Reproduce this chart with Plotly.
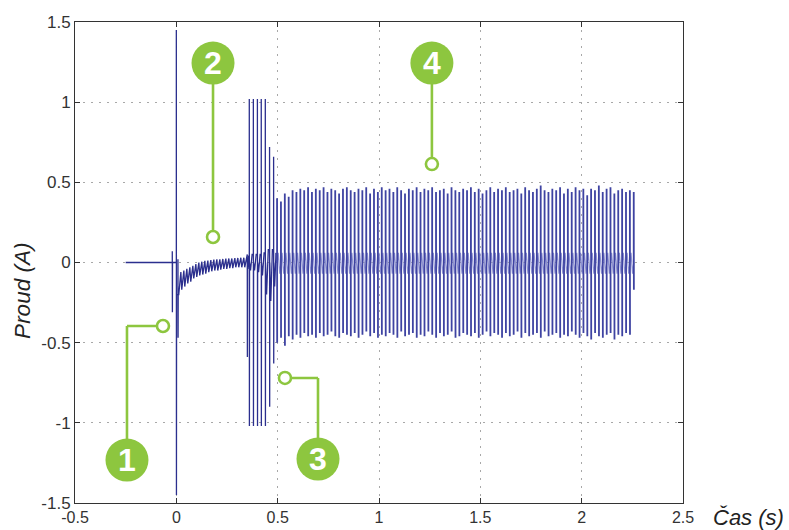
import plotly.graph_objects as go

# ---------------- measured current (Proud, A) versus time (Čas, s) ----------------

# idle level before switch-on
idle_t = [-0.25, -0.021]
idle_i = [0.0, 0.0]

# switch-on transients: time, upper and lower excursion
switch_t = [-0.020, 0.000, 0.008]
switch_hi = [0.07, 1.45, 0.02]
switch_lo = [-0.31, -1.45, -0.47]

# start-up ripple settling toward zero, one entry per ripple cycle
ramp_t0 = 0.012
ramp_period = 0.0148
ramp_hi = [-0.06, -0.05, -0.04, -0.03, -0.02, -0.01, 0.0, 0.005, 0.01, 0.012, 0.015, 0.018,
           0.02, 0.02, 0.022, 0.024, 0.025, 0.025, 0.027, 0.028, 0.03, 0.03, 0.03]
ramp_lo = [-0.20, -0.17, -0.15, -0.13, -0.12, -0.10, -0.09, -0.08, -0.075, -0.07, -0.06, -0.055,
           -0.05, -0.05, -0.045, -0.04, -0.04, -0.035, -0.035, -0.03, -0.03, -0.03, -0.03]

# acceleration bursts (clipped at about ±1 A)
burst_t = [0.350, 0.360, 0.380, 0.400, 0.419, 0.439, 0.460, 0.480]
burst_hi = [0.05, 1.02, 1.02, 1.02, 1.02, 1.02, 0.72, 0.66]
burst_lo = [-0.59, -1.02, -1.02, -1.02, -1.02, -1.02, -0.90, -0.63]
burst_gap_hi = [0.04, 0.05, 0.05, 0.05, 0.06, 0.08, 0.08, 0.06]
burst_gap_lo = [-0.04, -0.05, -0.05, -0.06, -0.08, -0.20, -0.24, -0.15]

# steady-state pulses
pulse_t0 = 0.497
pulse_period = 0.01913
pulse_hi = [0.40, 0.38, 0.43, 0.41, 0.45, 0.44, 0.46, 0.45, 0.47, 0.44,
            0.46, 0.45, 0.47, 0.44, 0.46, 0.45, 0.43, 0.46, 0.47, 0.45,
            0.44, 0.46, 0.45, 0.47, 0.43, 0.46, 0.44, 0.47, 0.45, 0.46,
            0.44, 0.47, 0.45, 0.43, 0.46, 0.45, 0.47, 0.44, 0.46, 0.45,
            0.47, 0.44, 0.45, 0.46, 0.43, 0.47, 0.45, 0.44, 0.46, 0.45,
            0.47, 0.44, 0.46, 0.43, 0.45, 0.47, 0.44, 0.46, 0.45, 0.47,
            0.44, 0.45, 0.46, 0.43, 0.47, 0.45, 0.44, 0.46, 0.48, 0.45,
            0.44, 0.46, 0.45, 0.47, 0.43, 0.46, 0.44, 0.47, 0.45, 0.46,
            0.42, 0.46, 0.45, 0.48, 0.44, 0.46, 0.47, 0.43, 0.45, 0.46,
            0.44, 0.45, 0.44]
pulse_lo = [-0.50, -0.47, -0.52, -0.46, -0.48, -0.45, -0.47, -0.44, -0.46, -0.45,
            -0.47, -0.44, -0.46, -0.45, -0.43, -0.46, -0.47, -0.44, -0.45, -0.46,
            -0.44, -0.47, -0.45, -0.43, -0.46, -0.44, -0.47, -0.45, -0.46, -0.44,
            -0.45, -0.47, -0.43, -0.46, -0.45, -0.44, -0.47, -0.45, -0.46, -0.43,
            -0.45, -0.47, -0.44, -0.46, -0.45, -0.43, -0.47, -0.46, -0.44, -0.45,
            -0.46, -0.44, -0.47, -0.45, -0.43, -0.46, -0.44, -0.45, -0.47, -0.44,
            -0.46, -0.45, -0.43, -0.47, -0.44, -0.46, -0.45, -0.44, -0.47, -0.43,
            -0.46, -0.45, -0.44, -0.47, -0.45, -0.46, -0.43, -0.45, -0.47, -0.44,
            -0.46, -0.48, -0.44, -0.46, -0.47, -0.45, -0.44, -0.48, -0.45, -0.46,
            -0.44, -0.45, -0.17]
pulse_ripple_hi = 0.06
pulse_ripple_lo = -0.07

# axis ticks
x_ticks = [-0.5, 0, 0.5, 1, 1.5, 2, 2.5]
x_labels = ["-0.5", "0", "0.5", "1", "1.5", "2", "2.5"]
y_ticks = [-1.5, -1, -0.5, 0, 0.5, 1, 1.5]
y_labels = ["-1.5", "-1", "-0.5", "0", "0.5", "1", "1.5"]

# numbered callouts: badge centre, optional elbow, tip (data coordinates)
callouts = [
    ("1", (-0.2435, -1.232), (-0.2435, -0.396), (-0.066, -0.396)),
    ("2", (0.181, 1.244), None, (0.181, 0.159)),
    ("3", (0.699, -1.226), (0.699, -0.720), (0.536, -0.720)),
    ("4", (1.261, 1.244), None, (1.261, 0.614)),
]

# ---------------- build the traces ----------------
eps = 0.0006
xs, ys = list(idle_t), list(idle_i)


def add_spike(t, hi, lo, after):
    """Vertical excursion at time t: up to hi, down to lo, back to 'after'."""
    xs.extend([t, t, t + eps, t + 2 * eps])
    ys.extend([ys[-1], hi, lo, after])


for k, (t, hi, lo) in enumerate(zip(switch_t, switch_hi, switch_lo)):
    add_spike(t, hi, lo, 0.0 if t < 0 else ramp_lo[0])

for k, (hi, lo) in enumerate(zip(ramp_hi, ramp_lo)):
    t = ramp_t0 + k * ramp_period
    xs += [t, t + 0.7 * ramp_period]
    ys += [lo, hi]

for k, (t, hi, lo) in enumerate(zip(burst_t, burst_hi, burst_lo)):
    add_spike(t, hi, lo, 0.0)
    nxt = burst_t[k + 1] if k + 1 < len(burst_t) else pulse_t0
    xs += [t + 0.3 * (nxt - t), t + 0.7 * (nxt - t)]
    ys += [burst_gap_lo[k], burst_gap_hi[k]]

# steady state: dark pulse strokes plus the lighter ripple running between them
px, py = [], []
rx, ry = [xs[-1]], [ys[-1]]
for k, (hi, lo) in enumerate(zip(pulse_hi, pulse_lo)):
    t = pulse_t0 + k * pulse_period
    px += [t, t, t + eps, None]
    py += [0.0, hi, lo, None]
    if k + 1 < len(pulse_hi):
        rx += [t, t + 0.3 * pulse_period, t + 0.7 * pulse_period]
        ry += [0.0, pulse_ripple_hi, pulse_ripple_lo]
    else:
        rx += [t]
        ry += [0.0]

fig = go.Figure()
fig.add_trace(go.Scatter(x=rx, y=ry, mode="lines",
                         line=dict(color="#8D91D3", width=1.2),
                         hoverinfo="skip", showlegend=False))
fig.add_trace(go.Scatter(x=xs, y=ys, mode="lines",
                         line=dict(color="#2B2F8E", width=1.3),
                         hoverinfo="skip", showlegend=False))
fig.add_trace(go.Scatter(x=px, y=py, mode="lines", connectgaps=False,
                         line=dict(color="#3E43A2", width=1.8),
                         hoverinfo="skip", showlegend=False))

# ---------------- callouts ----------------
green = "#8DC63F"
shapes = []
annotations = []
for label, badge, elbow, tip in callouts:
    pts = [badge] + ([elbow] if elbow else []) + [tip]
    for (xa, ya), (xb, yb) in zip(pts[:-1], pts[1:]):
        shapes.append(dict(type="line", xref="x", yref="y", x0=xa, y0=ya, x1=xb, y1=yb,
                           line=dict(color=green, width=2.6), layer="above"))
for label, badge, elbow, tip in callouts:
    shapes.append(dict(type="circle", xref="x", yref="y", xsizemode="pixel", ysizemode="pixel",
                       xanchor=badge[0], yanchor=badge[1], x0=-21.5, x1=21.5, y0=-21.5, y1=21.5,
                       fillcolor=green, line=dict(width=0), layer="above"))
    shapes.append(dict(type="circle", xref="x", yref="y", xsizemode="pixel", ysizemode="pixel",
                       xanchor=tip[0], yanchor=tip[1], x0=-6, x1=6, y0=-6, y1=6,
                       fillcolor="white", line=dict(color=green, width=2.6), layer="above"))
    annotations.append(dict(x=badge[0], y=badge[1], xref="x", yref="y", text=f"<b>{label}</b>",
                            showarrow=False, font=dict(family="Liberation Sans", size=32, color="white"),
                            xanchor="center", yanchor="middle"))

annotations.append(dict(x=1.0, y=0.0, xref="paper", yref="paper", text="<i>Čas (s)</i>",
                        showarrow=False, xanchor="left", yanchor="middle", xshift=28, yshift=-14,
                        font=dict(family="Liberation Sans", size=22, color="#222")))
annotations.append(dict(x=0.0, y=0.441, xref="paper", yref="paper", text="<i>Proud (A)</i>",
                        showarrow=False, textangle=-90, xanchor="center", yanchor="middle",
                        xshift=-52, font=dict(family="Liberation Sans", size=22.5, color="#222")))

axis_common = dict(showline=True, linecolor="#333", linewidth=1, mirror="ticks",
                   ticks="inside", ticklen=5, tickcolor="#333", showgrid=True,
                   gridcolor="#a8a8a8", griddash="2px,6px", gridwidth=1, zeroline=False,
                   automargin=False)

fig.update_layout(
    width=789, height=530,
    margin=dict(l=75, r=106, t=22, b=27),
    paper_bgcolor="white", plot_bgcolor="white",
    xaxis=dict(range=[-0.5, 2.5], tickvals=x_ticks, ticktext=x_labels, ticklabelstandoff=0,
               tickfont=dict(family="Liberation Sans", size=16, color="#333"), **axis_common),
    yaxis=dict(range=[-1.5, 1.5], tickvals=y_ticks, ticktext=y_labels,
               tickfont=dict(family="Liberation Sans", size=17, color="#333"), **axis_common),
    shapes=shapes, annotations=annotations,
)

fig.write_html("out.html")
